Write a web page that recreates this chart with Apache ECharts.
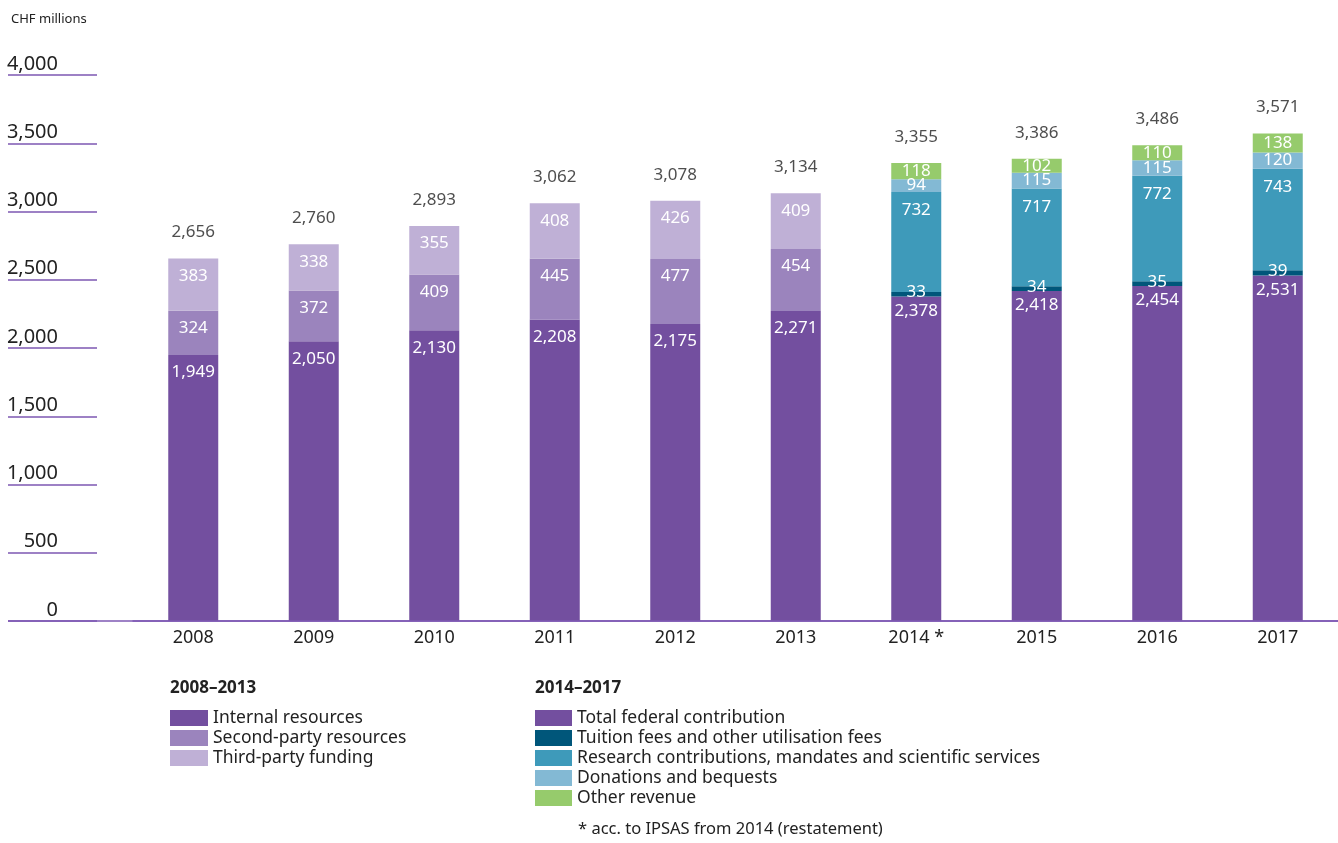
<!DOCTYPE html>
<html>
<head>
<meta charset="utf-8">
<script src="https://cdn.jsdelivr.net/npm/echarts@6/dist/echarts.min.js"></script>
<style>
html,body{margin:0;padding:0;background:#fff;}
#chart{width:1338px;height:843px;}
</style>
</head>
<body>
<div id="chart"></div>
<script>
const years = ['2008','2009','2010','2011','2012','2013','2014 *','2015','2016','2017'];
const internalResources = [1949,2050,2130,2208,2175,2271,null,null,null,null];
const secondParty = [324,372,409,445,477,454,null,null,null,null];
const thirdParty = [383,338,355,408,426,409,null,null,null,null];
const federal = [null,null,null,null,null,null,2378,2418,2454,2531];
const tuition = [null,null,null,null,null,null,33,34,35,39];
const research = [null,null,null,null,null,null,732,717,772,743];
const donations = [null,null,null,null,null,null,94,115,115,120];
const otherRevenue = [null,null,null,null,null,null,118,102,110,138];
const totals = [2656,2760,2893,3062,3078,3134,3355,3386,3486,3571];
const yTicks = [0,500,1000,1500,2000,2500,3000,3500,4000];

const FONT = '"Noto Sans", sans-serif';
const fmt = v => v.toLocaleString('en-US');
const C = {
  internal:'#734f9f', second:'#9b84bd', third:'#bfb0d6',
  tuition:'#00567a', research:'#3e9aba', donations:'#83b9d4', other:'#96cb6c'
};

function seg(name, data, color, labelPos, dist){
  return {
    name, type:'bar', stack:'s', data, barWidth:50,
    itemStyle:{color},
    label:{show:true, position:labelPos, distance:dist, color:'#fff', fontSize:17, fontFamily:FONT,
      formatter:p => p.value == null ? '' : fmt(p.value)}
  };
}

const headings = [
  {type:'text', left:170, top:680, style:{text:'2008–2013', font:'bold 17px '+FONT, fill:'#222'}},
  {type:'text', left:535, top:680, style:{text:'2014–2017', font:'bold 17px '+FONT, fill:'#222'}},
  {type:'text', left:578, top:821, style:{text:'* acc. to IPSAS from 2014 (restatement)', font:'16.5px '+FONT, fill:'#222'}}
];

const chart = echarts.init(document.getElementById('chart'));
const option = {
  animation:false,
  textStyle:{fontFamily:FONT},
  title:{text:'CHF millions', left:6, top:8, textStyle:{fontSize:13, fontWeight:'normal', color:'#222', fontFamily:FONT}},
  grid:{left:133, right:0, top:75, bottom:222},
  xAxis:{
    type:'category', data:years,
    axisLine:{lineStyle:{color:'#7e58b3', width:1.5}},
    axisTick:{show:false},
    axisLabel:{color:'#222', fontSize:18, margin:8, fontFamily:FONT}
  },
  yAxis:{
    type:'value', min:0, max:4000, interval:500, offset:36,
    axisLine:{show:false},
    axisTick:{show:true, length:89, lineStyle:{color:'#7e58b3', width:1.5}},
    splitLine:{show:false},
    axisLabel:{color:'#222', fontSize:20, margin:39, align:'right', verticalAlign:'bottom', padding:[0,0,1,0], fontFamily:FONT,
      formatter:v => fmt(v)}
  },
  legend:[
    {left:170, top:709, padding:0, orient:'vertical', itemWidth:38, itemHeight:16, itemGap:2, icon:'rect', selectedMode:false,
     textStyle:{fontSize:17.5, lineHeight:16, color:'#222', fontFamily:FONT},
     data:['Internal resources','Second-party resources','Third-party funding']},
    {left:535, top:709, padding:0, orient:'vertical', itemWidth:37, itemHeight:16, itemGap:2, icon:'rect', selectedMode:false,
     textStyle:{fontSize:17.5, lineHeight:16, color:'#222', fontFamily:FONT},
     data:['Total federal contribution','Tuition fees and other utilisation fees','Research contributions, mandates and scientific services','Donations and bequests','Other revenue']}
  ],
  graphic:headings,
  series:[
    seg('Internal resources', internalResources, C.internal, 'insideTop', 9),
    seg('Second-party resources', secondParty, C.second, 'insideTop', 9),
    seg('Third-party funding', thirdParty, C.third, 'insideTop', 9),
    seg('Total federal contribution', federal, C.internal, 'insideTop', 6),
    seg('Tuition fees and other utilisation fees', tuition, C.tuition, 'top', -9),
    seg('Research contributions, mandates and scientific services', research, C.research, 'insideTop', 10),
    seg('Donations and bequests', donations, C.donations, 'inside', 0),
    seg('Other revenue', otherRevenue, C.other, 'inside', 0),
    {
      name:'Total', type:'scatter', data:totals, symbolSize:1, itemStyle:{color:'rgba(0,0,0,0)'},
      label:{show:true, position:'top', distance:17, color:'#222', fontSize:17, fontFamily:FONT, formatter:p => fmt(p.value)},
      z:5
    }
  ]
};
chart.setOption(option);

// extend the zero baseline to the left edge of the axis ticks
const y0 = chart.convertToPixel({yAxisIndex:0}, yTicks[0]);
chart.setOption({graphic:headings.concat([
  {type:'line', shape:{x1:8, y1:y0, x2:1338, y2:y0}, style:{stroke:'#7e58b3', lineWidth:1.5}, z:10}
])});
</script>
</body>
</html>
